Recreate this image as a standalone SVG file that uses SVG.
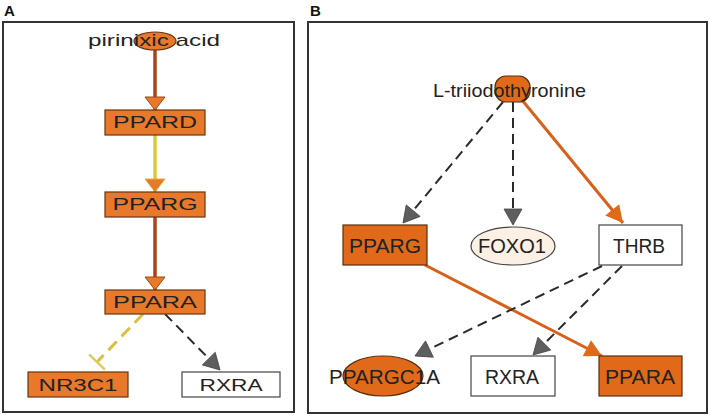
<svg xmlns="http://www.w3.org/2000/svg" width="710" height="416" viewBox="0 0 710 416">
<defs>
<style>
.frame{fill:#fff;stroke:#333;stroke-width:2}
.lbl{font-family:"Liberation Sans",Arial,sans-serif;font-weight:bold;font-size:15px;fill:#111}
.t{font-family:"Liberation Sans",Arial,sans-serif;fill:#222;text-anchor:middle}
.ta{font-size:16px}
.tb{font-size:21px}
.na{fill:#e8792a;stroke:#6a3410;stroke-width:1.2}
.nb{fill:#e06a1a;stroke:#5a3010;stroke-width:1.2}
.nw{fill:#fff;stroke:#444;stroke-width:1.2}
.brown{stroke:#b0401a;stroke-width:3.5;fill:none}
.yel{stroke:#d8c83a;stroke-width:3.5;fill:none}
.yeld{stroke:#d8c040;stroke-width:3;fill:none;stroke-dasharray:12 7}
.dash{stroke:#2a2a2a;stroke-width:2;fill:none;stroke-dasharray:10 6}
.or{stroke:#d8601a;stroke-width:3;fill:none}
</style>
<marker id="arrA" markerUnits="userSpaceOnUse" markerWidth="16" markerHeight="24" refX="13" refY="11" orient="auto" overflow="visible">
<path d="M0,1 L13,11 L0,21 Z" fill="#e8792a" stroke="#9a4a18" stroke-width="1"/>
</marker>
<marker id="arrAy" markerUnits="userSpaceOnUse" markerWidth="16" markerHeight="24" refX="13" refY="11" orient="auto" overflow="visible">
<path d="M0,1 L13,11 L0,21 Z" fill="#e8792a" stroke="#d8b040" stroke-width="1"/>
</marker>
<marker id="arrG" markerUnits="userSpaceOnUse" markerWidth="18" markerHeight="20" refX="16" refY="9" orient="auto" overflow="visible">
<path d="M0,0 L16,9 L0,18 Z" fill="#5e5e5e" stroke="#444" stroke-width="0.8"/>
</marker>
<marker id="arrO" markerUnits="userSpaceOnUse" markerWidth="20" markerHeight="20" refX="17" refY="9" orient="auto" overflow="visible">
<path d="M0,0 L17,9 L0,18 Z" fill="#e06a1a"/>
</marker>
<marker id="tbar" markerUnits="userSpaceOnUse" markerWidth="4" markerHeight="24" refX="1" refY="11" orient="auto" overflow="visible">
<path d="M1,0 L1,22" stroke="#dccc66" stroke-width="2.5"/>
</marker>
</defs>
<rect width="710" height="416" fill="#fff"/>
<text class="lbl" x="4" y="16">A</text>
<text class="lbl" x="310" y="16">B</text>
<rect class="frame" x="3" y="22" width="291" height="390"/>
<rect class="frame" x="308" y="22" width="399" height="391"/>

<g id="connectors">
<line class="brown" x1="155" y1="50" x2="155" y2="110" marker-end="url(#arrA)"/>
<line class="yel" x1="155" y1="135" x2="155" y2="192" marker-end="url(#arrAy)"/>
<line class="brown" x1="155" y1="217" x2="155" y2="290" marker-end="url(#arrA)"/>
<line class="yeld" x1="143" y1="314" x2="97" y2="362" marker-end="url(#tbar)"/>
<line class="dash" x1="165" y1="314" x2="220" y2="370" marker-end="url(#arrG)"/>

<line class="dash" x1="503" y1="102" x2="403" y2="223" marker-end="url(#arrG)"/>
<line class="dash" x1="513" y1="102" x2="513" y2="225" marker-end="url(#arrG)"/>
<line class="or" x1="522" y1="100" x2="623" y2="223" marker-end="url(#arrO)"/>
<line class="or" x1="425" y1="265" x2="602" y2="356" marker-end="url(#arrO)"/>
<line class="dash" x1="602" y1="266" x2="415" y2="356" marker-end="url(#arrG)"/>
<line class="dash" x1="622" y1="266" x2="533" y2="355" marker-end="url(#arrG)"/>
</g>

<g id="pirinixic_acid">
<ellipse class="na" cx="155" cy="41" rx="21" ry="9"/>
<text class="t" x="154" y="46" font-size="17" textLength="132" lengthAdjust="spacingAndGlyphs">pirinixic acid</text>
</g>
<g id="A_PPARD">
<rect class="na" x="105" y="110" width="100" height="25"/>
<text class="t ta" x="155" y="128" textLength="84" lengthAdjust="spacingAndGlyphs">PPARD</text>
</g>
<g id="A_PPARG">
<rect class="na" x="105" y="192" width="100" height="25"/>
<text class="t ta" x="155" y="210" textLength="85" lengthAdjust="spacingAndGlyphs">PPARG</text>
</g>
<g id="A_PPARA">
<rect class="na" x="105" y="290" width="100" height="24"/>
<text class="t ta" x="155" y="308" textLength="84" lengthAdjust="spacingAndGlyphs">PPARA</text>
</g>
<g id="A_NR3C1">
<rect class="na" x="28" y="372" width="100" height="25"/>
<text class="t ta" x="78" y="390.5" textLength="79" lengthAdjust="spacingAndGlyphs">NR3C1</text>
</g>
<g id="A_RXRA">
<rect class="nw" x="182" y="372" width="98" height="25"/>
<text class="t ta" x="231" y="390.5" textLength="63" lengthAdjust="spacingAndGlyphs">RXRA</text>
</g>

<g id="L_triiodothyronine">
<rect class="nb" x="495" y="76" width="35" height="26" rx="11"/>
<text class="t" x="509.5" y="97" font-size="19" textLength="153" lengthAdjust="spacingAndGlyphs">L-triiodothyronine</text>
</g>
<g id="B_PPARG">
<rect class="nb" x="343" y="225" width="84" height="40"/>
<text class="t tb" x="385" y="253" textLength="72" lengthAdjust="spacingAndGlyphs">PPARG</text>
</g>
<g id="B_FOXO1">
<ellipse cx="513" cy="246" rx="42" ry="19" fill="#fcefe4" stroke="#444" stroke-width="1.2"/>
<text class="t tb" x="512" y="253" textLength="68" lengthAdjust="spacingAndGlyphs">FOXO1</text>
</g>
<g id="B_THRB">
<rect class="nw" x="599" y="225" width="83" height="40"/>
<text class="t tb" x="639" y="253" textLength="52" lengthAdjust="spacingAndGlyphs">THRB</text>
</g>
<g id="B_PPARGC1A">
<ellipse class="nb" cx="383" cy="376" rx="40" ry="20"/>
<text class="t tb" x="384.5" y="384" textLength="111" lengthAdjust="spacingAndGlyphs">PPARGC1A</text>
</g>
<g id="B_RXRA">
<rect class="nw" x="471" y="356" width="84" height="40"/>
<text class="t tb" x="512" y="384" textLength="54" lengthAdjust="spacingAndGlyphs">RXRA</text>
</g>
<g id="B_PPARA">
<rect class="nb" x="599" y="356" width="83" height="40"/>
<text class="t tb" x="640" y="384" textLength="70" lengthAdjust="spacingAndGlyphs">PPARA</text>
</g>
</svg>
